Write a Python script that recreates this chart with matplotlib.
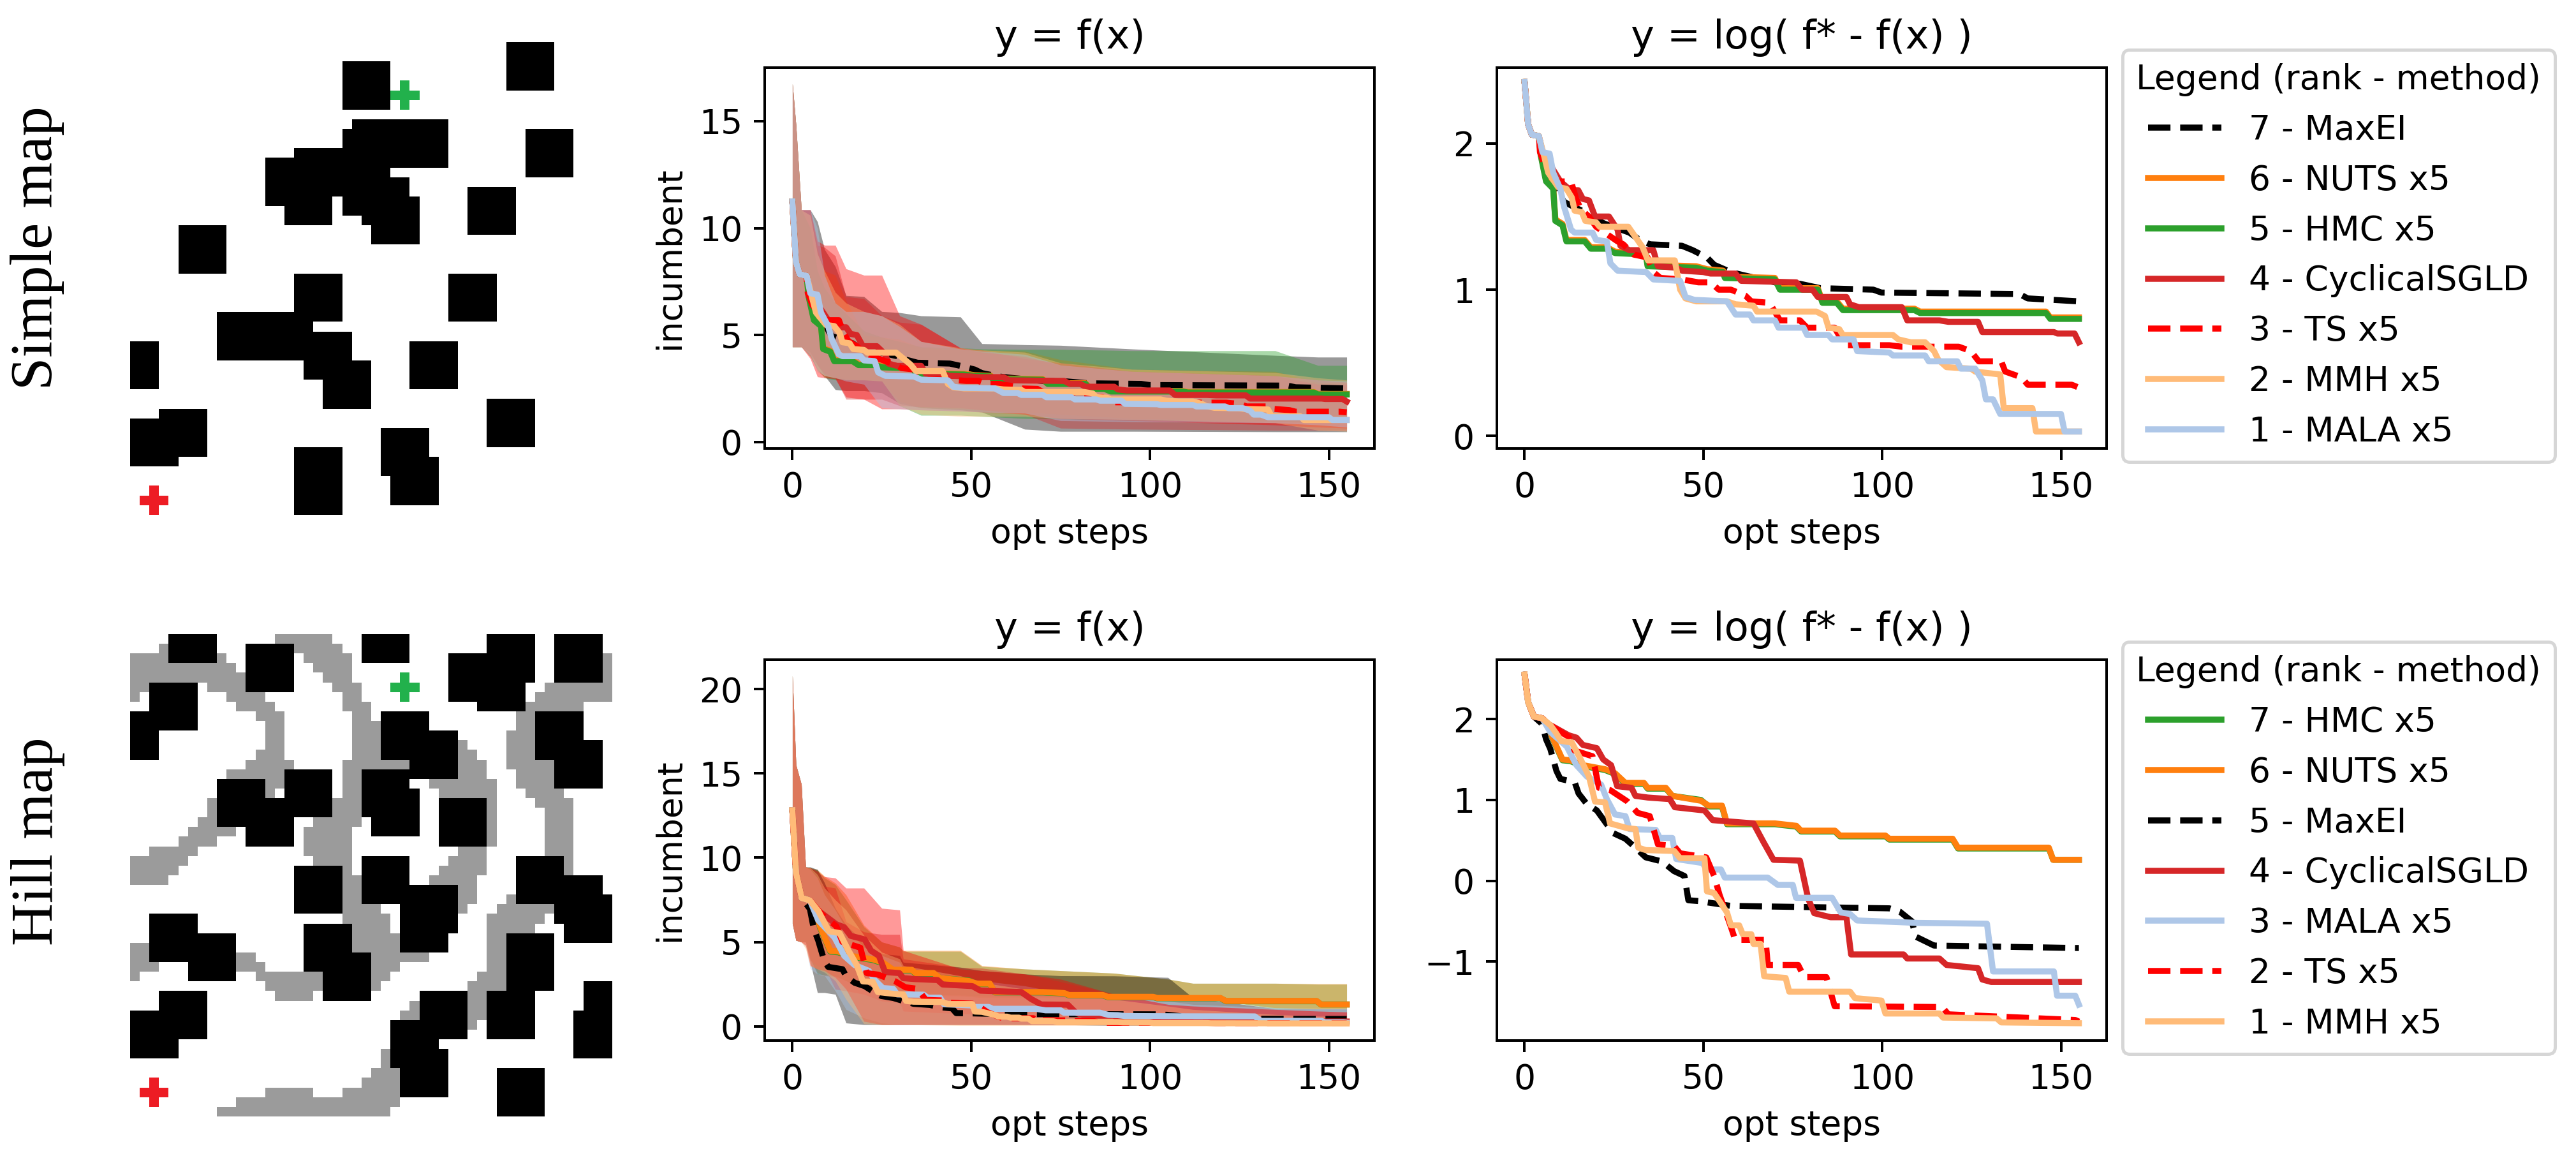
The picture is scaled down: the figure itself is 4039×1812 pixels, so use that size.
import numpy as np
import matplotlib
matplotlib.use("Agg")
import matplotlib.pyplot as plt
from matplotlib.colors import ListedColormap

W, H = 4040, 1812
DPI = 360

# ---- maps: (col, row) of the 5x5 obstacles on a 50x50 grid
simple_blocks = [(22,2),(39,0),(41,9),(23,8),(28,8),(22,9),(17,11),(14,12),(16,14),(22,13),(24,14),(25,16),
                 (35,15),(5,19),(17,24),(9,28),(14,28),(18,30),(20,33),(33,24),(29,31),(-2,31),(37,37),
                 (3,38),(0,39),(17,42),(17,44),(26,40),(27,43)]
hill_blocks = [(4,-2),(12,1),(24,-2),(37,0),(33,2),(36,3),(44,0),(2,5),(-2,8),(26,8),(29,10),(24,14),(25,16),
               (32,17),(42,8),(44,11),(9,15),(16,14),(12,17),(17,24),(24,23),(29,26),(28,28),(40,23),(44,25),
               (45,27),(2,29),(6,31),(18,30),(20,33),(37,37),(30,37),(27,40),(28,43),(38,45),(47,36),(46,39),
               (3,37),(0,39),(39,31),(39,32)]
# hill bands: row, first col, end col
hill_runs = [(0,15,21),(1,3,4),(1,15,22),(2,0,10),(2,18,23),(2,49,50),(3,0,11),(3,19,23),(3,49,50),(4,0,12),(4,20,23),
             (4,49,50),(5,0,2),(5,8,12),(5,21,24),(5,43,50),(6,0,1),(6,10,14),(6,22,24),(6,42,50),(7,11,15),(7,22,25),
             (7,41,47),(8,13,16),(8,23,25),(8,40,42),(9,14,16),(9,23,26),(9,40,42),(10,14,16),(10,23,26),(10,39,42),
             (11,14,16),(11,23,26),(11,34,35),(11,39,42),(12,13,16),(12,23,26),(12,34,36),(12,39,42),(13,12,17),
             (13,22,29),(13,34,37),(13,39,44),(14,10,16),(14,22,24),(14,34,37),(14,40,44),(15,14,16),(15,22,24),
             (15,31,38),(15,40,44),(16,14,15),(16,22,24),(16,32,38),(16,41,45),(17,8,9),(17,21,24),(17,37,38),(17,42,46),
             (18,8,9),(18,21,24),(18,37,38),(18,43,46),(19,7,9),(19,19,24),(19,37,38),(19,43,46),(20,6,11),(20,18,23),
             (20,37,38),(20,43,46),(21,5,9),(21,18,23),(21,37,38),(21,43,46),(22,2,7),(22,18,23),(22,34,37),(22,43,46),
             (23,0,6),(23,19,23),(23,33,37),(23,45,46),(24,0,5),(24,22,23),(24,32,37),(24,45,46),(25,0,4),(25,22,24),
             (25,31,36),(26,22,24),(26,34,36),(27,22,24),(27,34,36),(27,39,40),(28,22,26),(28,34,35),(28,38,44),
             (29,22,27),(29,37,43),(30,23,27),(30,37,42),(31,23,28),(31,37,39),(32,0,2),(32,23,28),(32,37,39),
             (33,0,2),(33,11,13),(33,23,31),(33,37,39),(34,0,3),(34,11,14),(34,25,28),(34,37,39),(35,0,1),(35,13,20),
             (35,25,27),(35,36,39),(36,14,20),(36,25,26),(36,35,39),(37,15,19),(37,35,37),(38,29,30),(38,35,37),
             (39,28,30),(39,35,37),(40,35,36),(43,26,27),(44,26,27),(45,25,28),(46,24,28),(47,14,19),(47,22,28),
             (48,11,28),(49,9,27)]
# start and goal crosses (col, row of the centre cell)
start_simple, goal_simple = (2,47), (28,5)
start_hill, goal_hill = (2,47), (28,5)

# ---- simple map, log regret curves
maxei_s_x = [0,1,2,4,5,10.2,11,16.8,18,22.5,29.3,31.6,35,44,47,51,53,57.7,61,70,77,82.7,97.5,99.8,138.4,140.7,155]
maxei_s_y = [2.42,2.13,2.06,2.05,1.94,1.64,1.60,1.53,1.50,1.45,1.39,1.35,1.31,1.30,1.27,1.22,1.17,1.12,1.10,1.05,1.04,1.01,1.00,.98,.97,.94,.92]
hmc_s_x = [0,1,2,4,4.5,6,8,8.6,10.6,11.7,16.8,18.5,23,25.3,33.9,34.4,48,51,55.5,56,70,71.4,82,83.3,87.3,89,109,110.6,145.8,147,155]
hmc_s_y = [2.42,2.13,2.06,2.05,1.92,1.74,1.69,1.47,1.44,1.33,1.33,1.28,1.28,1.25,1.24,1.16,1.15,1.13,1.12,1.08,1.07,1.00,1.00,.91,.91,.86,.86,.84,.84,.80,.80]
nuts_s_x = [0,1,2,4,4.5,6,8,8.6,10.6,11.7,16.8,18.5,23,25.3,33.9,34.4,48,51,55.5,56,70,71.4,82,83.3,87.3,89,109,110.6,145.8,147,155]
nuts_s_y = [2.42,2.13,2.06,2.05,1.93,1.75,1.70,1.48,1.45,1.34,1.34,1.29,1.29,1.26,1.25,1.17,1.16,1.14,1.13,1.09,1.08,1.01,1.01,.92,.92,.87,.87,.85,.85,.81,.81]
sgld_s_x = [0,1,2,4,5,10,12.8,15,16.3,18,19.7,23.6,26,26.8,29.3,36,37.3,42.4,44,50,52,59,60.6,76,77.6,80.5,82,90,91,93.5,105.5,107,116,118.5,126.8,128,148,149,153.8,155]
sgld_s_y = [2.42,2.13,2.06,2.05,1.94,1.74,1.68,1.68,1.62,1.61,1.50,1.50,1.41,1.30,1.27,1.27,1.16,1.15,1.13,1.12,1.11,1.11,1.06,1.05,1.00,1.00,.95,.95,.90,.88,.88,.79,.79,.78,.78,.71,.71,.70,.70,.64]
ts_s_x = [0,1,2,4,4.3,5.5,8.3,9,13,14.3,15.7,18,20,23.6,26,27.6,30.5,34.4,36,38,44,48.6,52,54.3,57.7,61.7,63.4,68.5,71.4,77,79,86.7,89.5,102,105.5,121.4,124.8,127,133.3,134.4,139,140.7,153,155]
ts_s_y = [2.42,2.13,2.06,2.05,1.94,1.86,1.76,1.74,1.74,1.63,1.55,1.50,1.43,1.37,1.33,1.31,1.24,1.22,1.12,1.08,1.07,1.05,1.05,1.00,1.00,.96,.92,.91,.79,.79,.74,.74,.62,.62,.61,.61,.58,.51,.51,.44,.40,.35,.35,.33]
mmh_s_x = [0,1,2,4,5.5,6.6,9.4,11.7,13.2,14,16,17,20,21,29,33,34.5,42,43.5,45,48,56.6,59,64,65,81.6,84,85,88,89,103,104.5,108,112,114.5,115.7,118,124.8,126,133,134,142,143,155]
mmh_s_y = [2.42,2.13,2.06,2.05,1.91,1.80,1.70,1.69,1.63,1.54,1.53,1.47,1.46,1.43,1.43,1.29,1.20,1.20,1.00,.94,.92,.92,.90,.89,.85,.85,.82,.74,.73,.69,.69,.66,.64,.64,.58,.52,.47,.46,.44,.42,.19,.19,.03,.03]
mala_s_x = [0,1,2,4,5,7,8,10,11,13,14,19,20,23,24,26,34,36,43.5,45,47.5,56.6,59,63,64,70,71,78,79,85,86,92,93,102,103,112,113,121,122,126,128,129,131,133,150,151,155]
mala_s_y = [2.42,2.13,2.06,2.05,1.94,1.93,1.80,1.69,1.57,1.41,1.39,1.39,1.34,1.33,1.18,1.13,1.12,1.07,1.06,.95,.93,.92,.83,.83,.79,.79,.74,.74,.69,.69,.66,.66,.58,.57,.55,.55,.51,.51,.46,.46,.38,.25,.25,.15,.15,.03,.03]

# ---- hill map, log regret curves
hmc_h_x = [0,1,2.6,4.9,6.6,7.7,10.6,12.8,16.3,22.5,25.3,28.2,33.4,34.4,39.5,41.3,49.3,51.5,55.2,56.6,70,76,77.3,86.8,88.2,100.9,102,119.7,121.2,146.6,147.8,155]
hmc_h_y = [2.55,2.21,2.03,2.01,1.94,1.77,1.49,1.48,1.42,1.37,1.32,1.20,1.20,1.14,1.14,1.05,1.00,.92,.92,.70,.70,.67,.61,.61,.55,.55,.51,.51,.40,.40,.26,.26]
nuts_h_x = [0,1,2.6,4.9,6.6,7.7,10.6,12.8,16.3,22.5,25.3,28.2,33.4,34.4,39.5,41.3,49.3,51.5,55.2,56.6,70,76,77.3,86.8,88.2,100.9,102,119.7,121.2,146.6,147.8,155]
nuts_h_y = [2.55,2.21,2.03,2.01,1.94,1.78,1.50,1.49,1.43,1.38,1.33,1.21,1.21,1.15,1.15,1.05,.99,.93,.93,.71,.71,.68,.62,.62,.56,.56,.52,.52,.41,.41,.26,.26]
maxei_h_x = [0,1,2.6,4.9,6,7.2,8.9,10,14,15.1,17.4,20.2,22.5,24.8,28.2,30.5,33.9,38.4,41.8,44.7,45.8,48.6,57.7,102,104.9,108.3,109.4,114.5,154,155]
maxei_h_y = [2.55,2.21,2.03,1.94,1.75,1.63,1.36,1.26,1.22,1.08,.95,.87,.73,.59,.52,.43,.29,.24,.12,.06,-.24,-.25,-.31,-.34,-.38,-.50,-.69,-.80,-.83,-.83]
sgld_h_x = [0,1,2.6,4.9,6.6,12.3,14.5,16.3,20.2,22,24.2,25.9,29.9,31,34.4,40.6,42,50.3,52.6,64,66.8,69.6,77,79.3,81,85.6,90,91.3,106,107,116,118,126.8,128,130.5,155]
sgld_h_y = [2.55,2.21,2.03,2.01,1.94,1.80,1.77,1.68,1.64,1.50,1.43,1.17,1.15,1.05,1.03,1.01,.91,.87,.75,.71,.48,.26,.25,-.22,-.40,-.45,-.45,-.91,-.91,-.96,-.96,-1.04,-1.08,-1.22,-1.25,-1.25]
mala_h_x = [0,1,2.6,4.9,7.2,11.8,14.5,17.4,21.4,23,25.3,28.2,29.3,36.7,37.8,41.3,42.4,49.8,50.9,54.9,56,68,70.8,75,75.9,86,88.4,91,93,110,129.3,131,148,148.9,154,155]
mala_h_y = [2.55,2.21,2.03,2.01,1.84,1.66,1.43,1.29,1.19,1.01,.82,.80,.64,.63,.53,.53,.27,.22,.14,.14,.04,.04,-.05,-.05,-.21,-.21,-.39,-.41,-.49,-.52,-.53,-1.12,-1.12,-1.42,-1.42,-1.53]
ts_h_x = [0,1,2.6,4.9,8.3,12.3,14,19,20.8,24,28.8,31.6,35,37.3,41.8,43.5,50.8,53,54.5,57.7,58.9,67.4,68,76.5,78.2,84.4,86.7,116.8,118.5,154,155]
ts_h_y = [2.55,2.21,2.03,2.01,1.89,1.78,1.61,1.54,1.15,1.12,.98,.84,.80,.45,.43,.34,.29,.06,-.17,-.57,-.73,-.73,-1.04,-1.04,-1.19,-1.19,-1.55,-1.56,-1.65,-1.72,-1.74]
mmh_h_x = [0,1,2.6,4.9,7.3,8.9,10.2,13.2,15.7,18,19.7,22.5,23.9,28.8,31,31.8,33.9,41.8,43.5,50.3,51,53,56.6,57.7,60,61,63.4,64,66,67,73,74,91,92.4,99.8,100.9,116,117,132,133.3,155]
mmh_h_y = [2.55,2.21,2.03,2.01,1.92,1.82,1.73,1.71,1.50,1.29,.98,.97,.71,.65,.64,.41,.38,.37,.28,.28,-.13,-.15,-.39,-.55,-.55,-.66,-.66,-.78,-.78,-1.18,-1.20,-1.37,-1.37,-1.45,-1.48,-1.64,-1.64,-1.69,-1.70,-1.75,-1.76]

# ---- spread of the incumbent, simple map
band_s_x = [0,1,2.5,5,7,9,12,15,20,25,30,36,47,53,65,75,95,135,147,155]
maxei_s_hi = [16.75,14.8,10.85,10.85,10.3,9.0,8.2,6.85,6.8,6.1,6.05,5.9,5.85,4.6,4.55,4.52,4.35,4.05,3.97,3.97]
maxei_s_lo = [4.45,4.45,4.45,4.2,3.6,3.1,2.45,2.4,2.4,2.3,1.8,1.6,1.5,1.4,.6,.5,.5,.48,.48,.48]
nuts_s_hi = [16.75,14.8,10.85,10.6,9,8.0,7.8,6.6,5.0,4.9,4.8,4.4,4.3,4.3,4.25,3.85,3.4,3.3,2.78,2.78]
nuts_s_lo = [4.45,4.45,4.45,4.1,3.3,3.05,3.0,2.95,2.9,2.85,1.9,1.6,1.55,1.5,1.4,1.3,1.1,1.0,.8,.75]
hmc_s_hi = [16.75,14.8,10.85,10,8.0,7.2,6.5,6.0,5.2,4.9,4.7,4.45,4.4,4.35,4.33,4.33,4.27,4.27,3.58,3.58]
hmc_s_lo = [4.45,4.45,4.45,4.0,3.4,3.0,2.9,2.9,2.9,2.85,1.7,1.25,1.25,1.2,1.1,1.08,1.0,.95,.9,.9]
sgld_s_hi = [16.75,14.8,10.85,10.85,9.2,9.1,8.7,6.8,6.7,5.9,5.6,5.5,4.4,4.3,3.9,3.7,3.3,3.1,2.7,2.7]
sgld_s_lo = [4.45,4.45,4.45,4.1,3.6,3.2,3,2.0,2.0,2.0,1.7,1.65,1.6,1.5,1.3,.65,.6,.55,.55,.55]
ts_s_hi = [16.75,14.8,10.85,10.85,9.4,9.2,9.2,8.1,7.8,7.8,5.9,5.5,4.4,4.2,4.0,3.6,3.3,3.1,2.9,2.8]
ts_s_lo = [4.45,4.45,4.45,3.9,3.05,3.0,2.95,2.1,2,1.55,1.55,1.5,1.45,1.4,1.3,1.1,1.0,.8,.7,.65]
mmh_s_hi = [16.75,14.8,10.85,10.6,8.8,8,7.0,6.5,6.1,5.9,5.5,4.7,4.4,4.3,4.2,3.7,3.4,3.25,3,2.9]
mmh_s_lo = [4.45,4.45,4.45,4.1,3.4,3.1,3,2.9,2.9,2.85,1.7,1.3,1.2,1.2,1.2,1.1,1.05,.9,.55,.5]
mala_s_hi = [16.75,14.8,10.85,10.85,10,7.8,6.5,6.1,6.1,5.9,5.4,4.7,4.35,4.25,4.1,3.6,3.3,3.1,2.9,2.85]
mala_s_lo = [4.45,4.45,4.45,4.05,3.3,3.1,3,2.85,2.7,1.6,1.55,1.5,1.45,1.4,1.35,1.0,.95,.9,.8,.7]

# ---- spread of the incumbent, hill map
band_h_x = [0,1,2.5,3.7,5,7,9,12,15,20,25,30,31,47,53,65,75,90,105,112,135,147,155]
hmc_h_hi = [20.8,15.5,14.35,9.45,9.4,9.25,8.8,8.4,7.5,5.9,5,4.7,4.45,4.45,3.55,3.4,3.3,3.15,2.8,2.55,2.55,2.5,2.5]
hmc_h_lo = [6.1,5.1,5,5,4,3.1,3.05,3,2.7,2.3,2.1,1.95,1.9,1.85,1.8,1.75,1.75,1.75,1.75,1.75,1.05,1.05,1.05]
nuts_h_hi = [20.8,15.5,14.35,9.45,9.4,9.3,8.9,8.5,7.8,6,5,4.7,4.5,4.5,3.6,3.4,3.3,3.15,2.8,2.55,2.55,2.52,2.52]
nuts_h_lo = [6.1,5.1,5,5,4,3.2,3.0,2.95,2.7,2.2,2,1.9,1.85,1.8,1.7,1.7,1.7,1.7,1.7,1.7,1.1,1.03,1.03]
maxei_h_hi = [20.8,15.5,14.35,9.45,9.45,9.3,8.5,7.0,6.0,5.0,4.3,4.2,3.8,3.5,3.3,3.1,3.0,2.99,2.9,1.7,1.05,1.03,1.03]
maxei_h_lo = [6.1,5.1,5,5,3.8,2.0,2.0,1.9,.2,.1,.1,.1,.1,.1,.1,.1,.1,.05,.05,.05,.05,.05,.05]
sgld_h_hi = [20.8,15.5,14.35,9.45,9.3,8.8,8.3,8.2,6.2,5.6,5.45,5.45,4.0,3.5,3.45,3.1,2.65,1.9,1.3,1.2,1.0,.9,.85]
sgld_h_lo = [6.1,5.1,5,4.8,3.9,3.6,3.5,2.2,2.1,1.9,1.5,1.4,.9,.75,.7,.6,.5,.45,.4,.35,.3,.25,.25]
mala_h_hi = [20.8,15.5,14.35,9.45,9.3,8.8,7.8,6.9,5.8,4.7,4.2,3.8,3.4,2.9,2.7,2.4,2.0,1.7,1.5,1.3,1.1,1.05,1.05]
mala_h_lo = [6.1,5.1,5,4.7,3.4,3.1,3.0,2.1,1,.5,.2,.1,.1,.1,.1,.1,.1,.05,.05,.05,.05,.05,.05]
ts_h_hi = [20.8,15.5,14.35,9.45,9.4,9.2,8.87,8.8,8.2,8.2,7.0,6.9,4.5,3.4,3.3,3.1,2.8,1.9,1.3,1.2,1.0,.9,.85]
ts_h_lo = [6.1,5.1,5,4.8,3.6,3.4,3.3,2.9,2.2,.3,.1,.1,.1,.1,.1,.1,.1,.08,.08,.05,.05,.05,.05]
mmh_h_hi = [20.8,15.5,14.35,9.45,9.4,9,8.2,7.5,6.9,5.4,4.4,4.0,3.6,3,2.6,2.2,1.9,1.6,1.2,1,.7,.6,.6]
mmh_h_lo = [6.1,5.1,5,4.6,3.6,3.4,3.2,2.7,1.6,.15,.1,.1,.1,.05,.05,.05,.05,.05,.05,.05,.05,.05,.05]

COL = {"MaxEI": "k", "NUTS x5": "tab:orange", "HMC x5": "tab:green", "CyclicalSGLD": "tab:red",
       "TS x5": "r", "MMH x5": "#ffbb78", "MALA x5": "#aec7e8"}
DASHED = ("MaxEI", "TS x5")

simple_rows = [
    (7, "MaxEI", maxei_s_x, maxei_s_y, maxei_s_lo, maxei_s_hi),
    (6, "NUTS x5", nuts_s_x, nuts_s_y, nuts_s_lo, nuts_s_hi),
    (5, "HMC x5", hmc_s_x, hmc_s_y, hmc_s_lo, hmc_s_hi),
    (4, "CyclicalSGLD", sgld_s_x, sgld_s_y, sgld_s_lo, sgld_s_hi),
    (3, "TS x5", ts_s_x, ts_s_y, ts_s_lo, ts_s_hi),
    (2, "MMH x5", mmh_s_x, mmh_s_y, mmh_s_lo, mmh_s_hi),
    (1, "MALA x5", mala_s_x, mala_s_y, mala_s_lo, mala_s_hi),
]
hill_rows = [
    (7, "HMC x5", hmc_h_x, hmc_h_y, hmc_h_lo, hmc_h_hi),
    (6, "NUTS x5", nuts_h_x, nuts_h_y, nuts_h_lo, nuts_h_hi),
    (5, "MaxEI", maxei_h_x, maxei_h_y, maxei_h_lo, maxei_h_hi),
    (4, "CyclicalSGLD", sgld_h_x, sgld_h_y, sgld_h_lo, sgld_h_hi),
    (3, "MALA x5", mala_h_x, mala_h_y, mala_h_lo, mala_h_hi),
    (2, "TS x5", ts_h_x, ts_h_y, ts_h_lo, ts_h_hi),
    (1, "MMH x5", mmh_h_x, mmh_h_y, mmh_h_lo, mmh_h_hi),
]

FS = 10.7
plt.rcParams["font.family"] = "DejaVu Sans"
plt.rcParams["font.size"] = FS
fig = plt.figure(figsize=(W / DPI, H / DPI), dpi=DPI)


def pix_axes(x0, y0, x1, y1):
    return fig.add_axes([x0 / W, 1 - y1 / H, (x1 - x0) / W, (y1 - y0) / H])


map_cmap = ListedColormap(["white", "#9b9b9b", "black", "#ed1c24", "#22b14c"])


def draw_map(top, blocks, start, goal, runs=()):
    grid = np.zeros((50, 50), dtype=int)
    for r, c0, c1 in runs:
        grid[r, c0:c1] = 1
    for c, r in blocks:
        grid[max(r, 0):r + 5, max(c, 0):c + 5] = 2
    for (c, r), v in ((start, 3), (goal, 4)):
        grid[r - 1:r + 2, c] = v
        grid[r, c - 1:c + 2] = v
    ax = pix_axes(204, top, 960, top + 756)
    ax.imshow(grid, cmap=map_cmap, vmin=0, vmax=4, interpolation="nearest", aspect="auto")
    ax.axis("off")


def draw_row(top, rows, band_x, ylim_l, ylim_r):
    bottom = top + 597
    ax1 = pix_axes(1199, top, 2155, bottom)
    ax2 = pix_axes(2347, top, 3303, bottom)
    for rank, name, xs, ys, lo, hi in rows:
        ax1.fill_between(band_x, lo, hi, color=COL[name], alpha=0.4, linewidth=0)
    for rank, name, xs, ys, lo, hi in rows:
        ls = "--" if name in DASHED else "-"
        ax1.plot(xs, np.exp(ys), ls, color=COL[name], lw=1.9)
        ax2.plot(xs, ys, ls, color=COL[name], lw=1.9, label=f"{rank} - {name}")
    for ax in (ax1, ax2):
        ax.set_xlim(-7.75, 162.75)
        ax.set_xticks([0, 50, 100, 150])
        ax.set_xlabel("opt steps")
    ax1.set_ylim(*ylim_l)
    ax2.set_ylim(*ylim_r)
    ax1.set_ylabel("incumbent")
    ax1.set_title("y = f(x)", fontsize=12.5)
    ax2.set_title("y = log( f* - f(x) )", fontsize=12.5)
    ax2.legend(title="Legend (rank - method)", loc="upper left", bbox_to_anchor=(3328 / W, 1 - (top - 28) / H),
               bbox_transform=fig.transFigure, borderaxespad=0, fontsize=FS, title_fontsize=FS, handlelength=2.15)
    return ax1, ax2


draw_map(66, simple_blocks, start_simple, goal_simple)
draw_map(994, hill_blocks, start_hill, goal_hill, hill_runs)

a1, a2 = draw_row(106, simple_rows, band_s_x, (-0.3, 17.5), (-0.086, 2.518))
a2.set_yticks([0, 1, 2])
b1, b2 = draw_row(1034, hill_rows, band_h_x, (-0.84, 21.74), (-1.974, 2.734))
b1.set_yticks([0, 5, 10, 15, 20])
a1.set_yticks([0, 5, 10, 15])
b2.set_yticks([-1, 0, 1, 2])

fig.text(59 / W, 1 - 389 / H, "Simple map", rotation=90, ha="center", va="center",
         family="Liberation Serif", fontsize=18.5)
fig.text(59 / W, 1 - 1319 / H, "Hill map", rotation=90, ha="center", va="center",
         family="Liberation Serif", fontsize=18.5)

fig.savefig("out.png", dpi=DPI)
